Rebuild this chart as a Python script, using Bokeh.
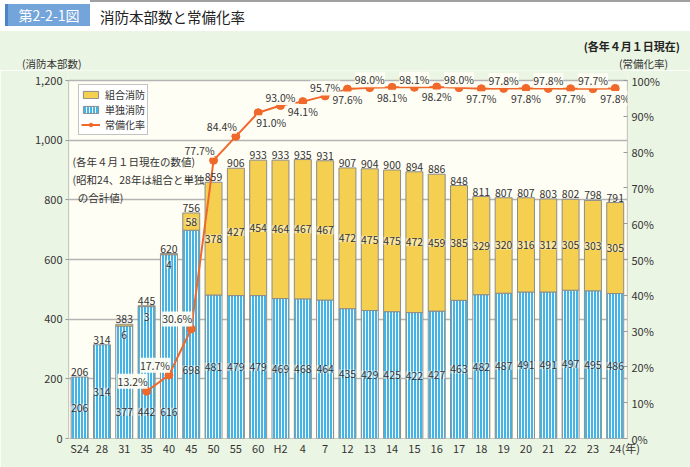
from bokeh.plotting import figure
from bokeh.models import (ColumnDataSource, Range1d, LinearAxis, Div,
                          NumeralTickFormatter, PrintfTickFormatter, FixedTicker,
                          Legend, LegendItem, Label, LabelSet)
from bokeh.layouts import column
from bokeh.embed import file_html
from bokeh.resources import INLINE
from bokeh.core.properties import value

# ---------------- data ----------------
years = ["S24", "28", "31", "35", "40", "45", "50", "55", "60", "H2", "4", "7",
         "12", "13", "14", "15", "16", "17", "18", "19", "20", "21", "22", "23", "24"]
single = [206, 314, 377, 442, 616, 698, 481, 479, 479, 469, 468, 464,
          435, 429, 425, 422, 427, 463, 482, 487, 491, 491, 497, 495, 486]
combined = [0, 0, 6, 3, 4, 58, 378, 427, 454, 464, 467, 467,
            472, 475, 475, 472, 459, 385, 329, 320, 316, 312, 305, 303, 305]
rate_years = ["35", "40", "45", "50", "55", "60", "H2", "4", "7", "12", "13", "14",
              "15", "16", "17", "18", "19", "20", "21", "22", "23", "24"]
rates = [13.2, 17.7, 30.6, 77.7, 84.4, 91.0, 93.0, 94.1, 95.7, 97.6, 98.0, 98.1,
         98.1, 98.2, 98.0, 97.7, 97.8, 97.8, 97.8, 97.7, 97.7, 97.8]
left_ticks = [0, 200, 400, 600, 800, 1000, 1200]
right_ticks = [0, 10, 20, 30, 40, 50, 60, 70, 80, 90, 100]

FONT = "Noto Sans CJK JP"
TXT = "#333333"
YELLOW = "#f5cf4f"
BLUE = "#42b5e6"
ORANGE = "#f0682a"
EDGE = "#8c8c8c"
OUTER = "#ebf5e3"
INNER = "#fffef4"
W = 690
HEAD_H = 70
MAIN_H = 467 - HEAD_H
FRAME_H = 438 - HEAD_H   # frame spans 70..438 px; the 0..1200 box spans 358 px
YMAX = 1200 * FRAME_H / 358.0

# ---------------- header (HTML) ----------------
header_html = (
    f'<div style="position:relative;width:{W}px;height:{HEAD_H}px;background:white;'
    f'font-family:\'{FONT}\',sans-serif;overflow:hidden;margin:0;">'
    f'<div style="position:absolute;left:0;top:31px;width:{W}px;height:{HEAD_H - 31}px;background:{OUTER};"></div>'
    '<div style="position:absolute;left:90px;top:0;width:600px;height:2px;background:#a0a0a0;"></div>'
    '<div style="position:absolute;left:5px;top:4px;width:85px;height:22px;background:#74a5da;'
    'border-left:3px solid #4d84c4;box-sizing:border-box;color:white;font-size:14px;'
    'line-height:22px;text-align:center;">第2-2-1図</div>'
    '<div style="position:absolute;left:100px;top:6px;font-size:14.5px;line-height:22px;'
    'color:#222;white-space:nowrap;">消防本部数と常備化率</div>'
    '<div style="position:absolute;right:10px;top:38px;font-size:11px;font-weight:bold;'
    'line-height:16px;color:#222;white-space:nowrap;">(各年４月１日現在)</div>'
    f'<div style="position:absolute;left:22px;top:57px;font-size:10.5px;line-height:13px;'
    f'color:{TXT};white-space:nowrap;">(消防本部数)</div>'
    f'<div style="position:absolute;left:619px;top:57px;font-size:10.5px;line-height:13px;'
    f'color:{TXT};white-space:nowrap;">(常備化率)</div>'
    '</div>'
)
head = Div(text=header_html, width=W, height=HEAD_H, margin=0)

# ---------------- main chart ----------------
xs = list(range(len(years)))
p = figure(width=W, height=MAIN_H, x_range=Range1d(-0.5, 24.55), y_range=Range1d(0, YMAX),
           toolbar_location=None, output_backend="svg",
           min_border_left=68, min_border_right=63, min_border_top=0, min_border_bottom=29)
p.extra_y_ranges = {"rate": Range1d(0, YMAX / 12.0)}
p.background_fill_color = OUTER
p.border_fill_color = OUTER
p.outline_line_color = None

# plot-area box (cream, gray border) spanning the 0..1200 scale
p.quad(left=[p.x_range.start], right=[p.x_range.end], bottom=[0], top=[left_ticks[-1]],
       fill_color=INNER, line_color="#9a9a9a", line_width=1.2, level="image")

totals = [s + c for s, c in zip(single, combined)]

src = ColumnDataSource(dict(x=xs, single=single, total=totals,
                            total_txt=[str(t) for t in totals],
                            single_txt=[str(s) for s in single]))
blue = p.vbar(x="x", top="single", bottom=0, width=0.76, source=src,
              fill_color=BLUE, line_color=EDGE, line_width=1,
              hatch_pattern="vertical_line", hatch_color="white",
              hatch_scale=3, hatch_weight=1)

ci = [i for i, c in enumerate(combined) if c > 0]
ysrc = ColumnDataSource(dict(x=[xs[i] for i in ci],
                             bottom=[single[i] for i in ci],
                             top=[totals[i] for i in ci],
                             txt=[str(combined[i]) for i in ci],
                             ly=[(single[i] + totals[i]) / 2 if combined[i] >= 20 else totals[i] - 37
                                 for i in ci]))
yellow = p.vbar(x="x", bottom="bottom", top="top", width=0.76, source=ysrc,
                fill_color=YELLOW, line_color=EDGE, line_width=1)

rx = [years.index(y) for y in rate_years]
rsrc = ColumnDataSource(dict(x=rx, y=rates, txt=["%.1f%%" % r for r in rates]))
rline = p.line(x="x", y="y", source=rsrc, y_range_name="rate", line_color=ORANGE, line_width=2)
rdots = p.scatter(x="x", y="y", source=rsrc, y_range_name="rate", size=8,
                  fill_color=ORANGE, line_color=ORANGE)

# single-value label heights (moved down where the rate line passes)
single_ly = [s / 2 for s in single]
for i in (2, 3, 4):
    single_ly[i] = 90
single_ly[5] = 231
src.data["single_ly"] = single_ly

lab_kw = dict(text_font=value(FONT), text_font_size="10.5px", text_color=TXT,
              text_align="center")
p.add_layout(LabelSet(x="x", y="total", text="total_txt", source=src, y_offset=1,
                      text_baseline="bottom", **lab_kw))
p.add_layout(LabelSet(x="x", y="single_ly", text="single_txt", source=src,
                      text_baseline="middle", background_fill_color="white",
                      background_fill_alpha=0.45, **lab_kw))
p.add_layout(LabelSet(x="x", y="ly", text="txt", source=ysrc,
                      text_baseline="middle", background_fill_color="white",
                      background_fill_alpha=0.45, **lab_kw))

# rate labels: offsets (screen px)
dx, dy = [], []
for k in range(len(rates)):
    if k <= 4:
        dx.append(-14); dy.append(10)
    elif k == 5:
        dx.append(13); dy.append(-10)
    elif (k - 6) % 2 == 0:
        dx.append(0); dy.append(8)
    else:
        dx.append(0); dy.append(-10)
rsrc.data["dx"] = dx
rsrc.data["dy"] = dy
p.add_layout(LabelSet(x="x", y="y", text="txt", source=rsrc, y_range_name="rate",
                      x_offset="dx", y_offset="dy", text_baseline="middle",
                      background_fill_color=INNER, background_fill_alpha=0.95, **lab_kw))

# axes
ax = p.yaxis[0]
ax.ticker = FixedTicker(ticks=left_ticks)
ax.formatter = NumeralTickFormatter(format="0,0")
ax.major_tick_in = 0
ax.major_tick_out = 3
ax.minor_tick_line_color = None
ax.axis_line_color = None
ax.major_tick_line_color = "#9a9a9a"
ax.major_label_text_font = FONT
ax.major_label_text_font_size = "11px"
ax.major_label_text_color = TXT
ax.major_label_standoff = 3

rax = LinearAxis(y_range_name="rate", ticker=FixedTicker(ticks=right_ticks),
                 formatter=PrintfTickFormatter(format="%d%%"))
rax.major_tick_in = 4
rax.major_tick_out = 0
rax.minor_tick_line_color = None
rax.axis_line_color = None
rax.major_tick_line_color = "#9a9a9a"
rax.major_label_text_font = FONT
rax.major_label_text_font_size = "11px"
rax.major_label_text_color = TXT
rax.major_label_standoff = 4
p.add_layout(rax, "right")

xa = p.xaxis[0]
xa.ticker = FixedTicker(ticks=xs)
overrides = {i: years[i] for i in xs}
overrides[xs[-1]] = "\u2003\u2002\u2009" + years[-1] + "(年)"
xa.major_label_overrides = overrides
xa.major_tick_in = 0
xa.major_tick_out = 0
xa.minor_tick_line_color = None
xa.axis_line_color = None
xa.major_label_text_font = FONT
xa.major_label_text_font_size = "11px"
xa.major_label_text_color = TXT
xa.major_label_standoff = 1

p.xgrid.grid_line_color = None
p.ygrid.ticker = FixedTicker(ticks=left_ticks)
p.ygrid.grid_line_color = "#b4b4b4"
p.ygrid.grid_line_width = 1.5

legend = Legend(items=[LegendItem(label="組合消防", renderers=[yellow]),
                       LegendItem(label="単独消防", renderers=[blue]),
                       LegendItem(label="常備化率", renderers=[rline, rdots])],
                location=(10, 303), glyph_width=19, glyph_height=9, label_height=10,
                spacing=-4, padding=2, margin=0, label_standoff=5,
                border_line_color="#888888", background_fill_color="white",
                label_text_font=FONT, label_text_font_size="10px", label_text_color=TXT)
p.add_layout(legend)

p.add_layout(Label(x=-0.32, y=952,
                   text="(各年４月１日現在の数値)\n(昭和24、28年は組合と単独\n\u2002の合計値)",
                   text_align="left", text_baseline="top", text_font=FONT,
                   text_font_size="10.5px", text_color=TXT))

layout = column(head, p, spacing=0)
open("out.html", "w").write(file_html(layout, INLINE))
